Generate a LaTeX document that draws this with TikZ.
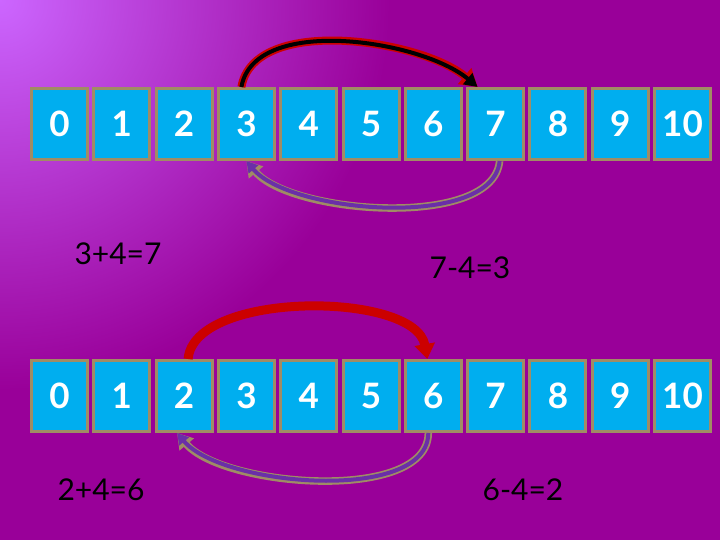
\documentclass[tikz,border=0pt]{standalone}
\usepackage{fontspec}
\setmainfont{Lato}
\usetikzlibrary{arrows.meta}
\definecolor{bgpurple}{HTML}{990099}
\definecolor{bglight}{HTML}{CC66FF}
\definecolor{boxblue}{HTML}{00AEEF}
\definecolor{boxrim}{HTML}{A08C64}
\definecolor{hopred}{HTML}{CC0000}
\definecolor{hopviolet}{HTML}{6A2FA8}
\tikzset{>=Triangle}

\begin{document}
\begin{tikzpicture}[x=1pt,y=1pt,
  cell/.style={draw=boxrim,fill=boxblue,line width=3pt,minimum width=56pt,minimum height=71pt,
    inner sep=0pt,text=white,font=\bfseries\fontsize{35}{35}\selectfont},
  sum/.style={text=black,font=\fontsize{30}{30}\selectfont},
  hopfwd/.style={draw=black,line width=4pt,-{Triangle[length=13pt,width=14pt]},
    preaction={draw=hopred,line width=8pt,-{Triangle[length=17pt,width=20pt]}}},
  hopback/.style={draw=hopviolet,line width=4pt,-{Triangle[length=11pt,width=12pt]},
    preaction={draw=boxrim,line width=7.5pt,-{Triangle[length=15pt,width=18pt]}}},
  hopup/.style={draw=hopred,line width=9pt,-{Triangle[length=15pt,width=20pt]}}]
\fill[bgpurple] (0,0) rectangle (720,540);
\begin{scope}
\clip (0,0) rectangle (720,540);
\shade[inner color=bglight,outer color=bgpurple] (0,540) circle (390);
\end{scope}
\useasboundingbox (0,0) rectangle (720,540);
% the two number lines
\foreach \n in {0,...,10} {
  \node[cell] (t\n) at (59.5+62.3*\n,416) {\n};
  \node[cell] (b\n) at (59.5+62.3*\n,144) {\n};
}
% jumps on the upper line
\draw[hopfwd] ([xshift=-5pt]t3.north) to[out=80,in=140,looseness=0.8] ([xshift=-18pt]t7.north);
\draw[hopback] ([xshift=4pt]t7.south) to[out=-95,in=-50,looseness=0.7] (t3.south);
% jumps on the lower line
\draw[hopup] ([xshift=4pt]b2.north) to[out=85,in=100,looseness=0.74] ([xshift=-6pt]b6.north);
\draw[hopback] ([xshift=-5pt]b6.south) to[out=-90,in=-50,looseness=0.72] ([xshift=-7pt]b2.south);
% sums
\node[sum] (addtop) at (118,286) {3+4=7};
\node[sum] (subtop) at (470,272) {7-4=3};
\node[sum] (addbot) at (101,50) {2+4=6};
\node[sum] (subbot) at (523,50) {6-4=2};
\end{tikzpicture}
\end{document}
